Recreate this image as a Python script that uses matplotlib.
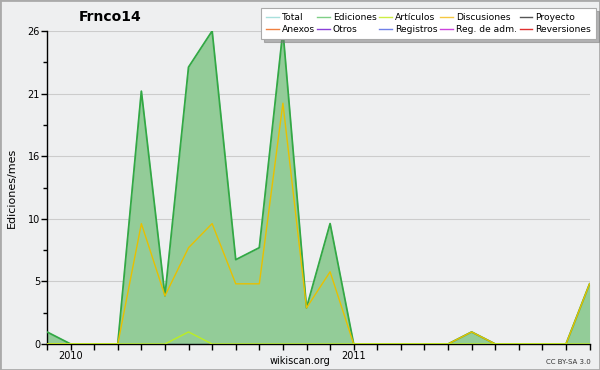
import matplotlib
matplotlib.use("Agg")
import matplotlib.pyplot as plt
from matplotlib.lines import Line2D
from matplotlib.patches import Rectangle

months = ["2009-12", "2010-01", "2010-02", "2010-03", "2010-04", "2010-05",
          "2010-06", "2010-07", "2010-08", "2010-09", "2010-10", "2010-11",
          "2010-12", "2011-01", "2011-02", "2011-03", "2011-04", "2011-05",
          "2011-06", "2011-07", "2011-08", "2011-09", "2011-10", "2011-11"]
total = [1, 0, 0, 0, 21, 4, 23, 26, 7, 8, 26, 3, 10, 0, 0, 0, 0, 0, 1, 0, 0, 0, 0, 5]
ediciones = [1, 0, 0, 0, 21, 4, 23, 26, 7, 8, 26, 3, 10, 0, 0, 0, 0, 0, 1, 0, 0, 0, 0, 5]
articulos = [0, 0, 0, 0, 0, 0, 1, 0, 0, 0, 0, 0, 0, 0, 0, 0, 0, 0, 0, 0, 0, 0, 0, 0]
discusiones = [0, 0, 0, 0, 10, 4, 8, 10, 5, 5, 20, 3, 6, 0, 0, 0, 0, 0, 1, 0, 0, 0, 0, 5]
year_labels = {"2010-01": "2010", "2011-01": "2011"}
ytick_labels = ["0", "5", "10", "16", "21", "26"]

legend_labels = ["Total", "Ediciones", "Artículos", "Discusiones", "Proyecto",
                 "Anexos", "Otros", "Registros", "Reg. de adm.", "Reversiones"]
legend_colors = ["#a8e0dc", "#7fcf86", "#ccee44", "#f5c842", "#555555",
                 "#f08040", "#8a3fd8", "#7080e8", "#cc44dd", "#e03030"]

bg = "#eeeff0"
fig = plt.figure(figsize=(6, 3.7), dpi=100, facecolor=bg)
ax = fig.add_axes([47/600, 26/370, (589.6-47)/600, (344-31)/370])
ax.set_facecolor(bg)

x = list(range(len(months)))
ax.fill_between(x, 0, ediciones, color="#93cc98", lw=0, zorder=1)
ax.plot(x, total, color="#a8e0dc", lw=1, zorder=2)
ax.plot(x, ediciones, color="#34a843", lw=1.3, zorder=3)
ax.plot(x, discusiones, color="#e8c000", lw=1, zorder=4)
ax.plot(x, articulos, color="#bbee22", lw=1, zorder=4)

ax.set_xlim(0, len(months) - 1)
ax.set_ylim(0, 26)
yt = [26 * k / 5 for k in range(6)]
ax.set_yticks(yt)
ax.set_yticklabels(ytick_labels)
ax.set_yticks([26 * k / 10 for k in range(1, 10, 2)], minor=True)
ax.set_xticks(x)
ax.set_xticklabels([year_labels.get(m, "") for m in months])
ax.tick_params(axis="both", which="both", direction="out", length=4, width=1,
               labelsize=7, colors="black", pad=1)
ax.tick_params(axis="y", which="minor", length=3)
for v in yt[1:]:
    ax.axhline(v, color="#cccccc", lw=0.8, zorder=0)
for s in ["top", "right"]:
    ax.spines[s].set_visible(False)
ax.spines["left"].set_linewidth(1)
ax.spines["bottom"].set_linewidth(1)
ax.set_ylabel("Ediciones/mes", fontsize=8, labelpad=8)

fig.text(110/600, 1 - 17/370, "Frnco14", fontsize=10, fontweight="bold",
         ha="center", va="center")
fig.text(300/600, 1 - 361/370, "wikiscan.org", fontsize=7, ha="center", va="center")
fig.text(568/600, 1 - 362/370, "CC BY-SA 3.0", fontsize=5, ha="center", va="center",
         color="#333333")

order = [0, 5, 1, 6, 2, 7, 3, 8, 4, 9]
handles = [Line2D([], [], color=legend_colors[i], lw=1) for i in order]
labels = [legend_labels[i] for i in order]
leg = fig.legend(handles, labels, ncol=5, loc="upper right",
                 bbox_to_anchor=(596/600, 1 - 8/370), fontsize=6.6,
                 frameon=True, fancybox=False, shadow={"color": "#777777"},
                 handlelength=1.4, handletextpad=0.3, columnspacing=0.3,
                 labelspacing=0.3, borderpad=0.55, borderaxespad=0)
leg.get_frame().set_edgecolor("#aaaaaa")
leg.get_frame().set_linewidth(0.8)

fig.patches.append(Rectangle((0, 0), 1, 1, transform=fig.transFigure, fill=False,
                             edgecolor="#aaaaaa", lw=2))
fig.savefig("out.png", dpi=100, facecolor=bg)
